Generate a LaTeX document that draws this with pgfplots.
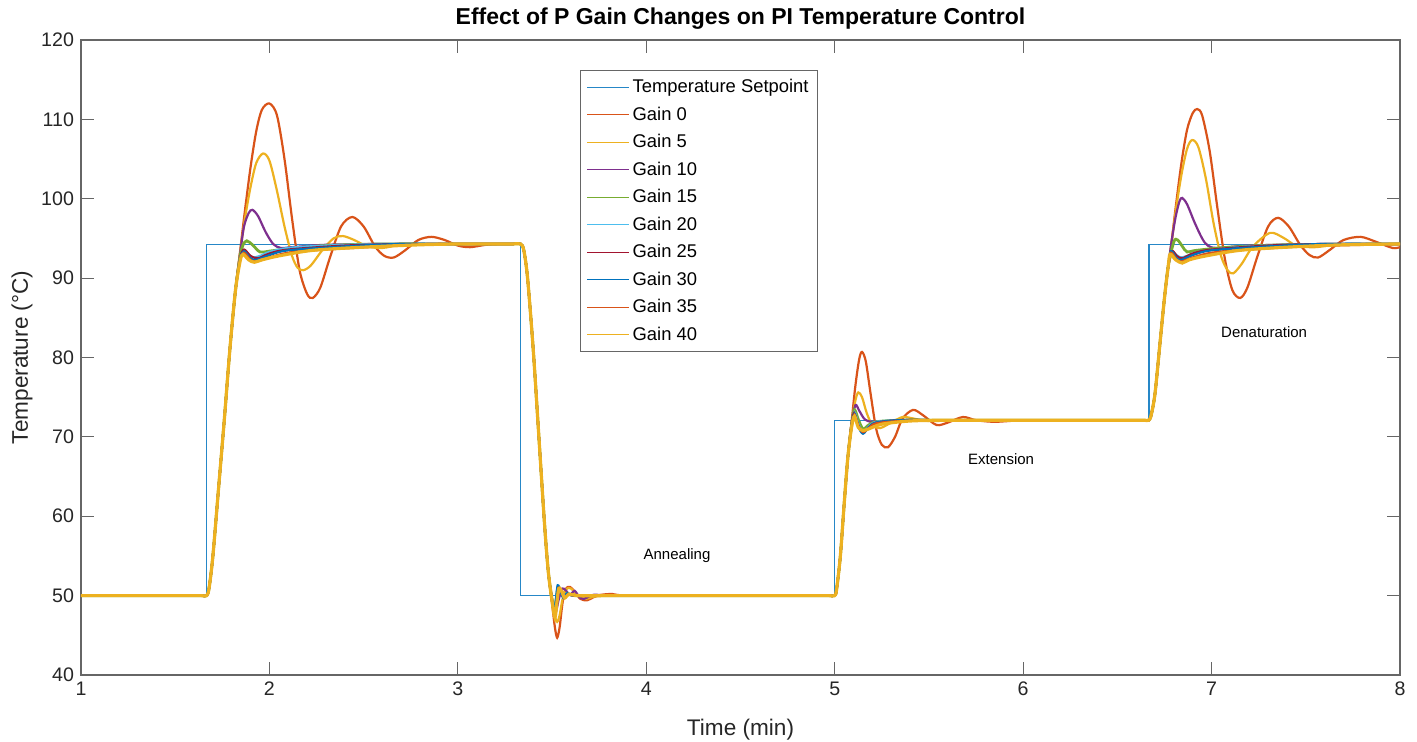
\documentclass[border=0pt]{standalone}
\usepackage{fontspec}
\setmainfont{Liberation Sans}
\usepackage{pgfplots}
\pgfplotsset{compat=1.18}
\usetikzlibrary{calc}
\definecolor{mblue}{RGB}{0,114,189}
\definecolor{morange}{RGB}{217,83,25}
\definecolor{myellow}{RGB}{237,177,32}
\definecolor{mpurple}{RGB}{126,47,142}
\definecolor{mgreen}{RGB}{119,172,48}
\definecolor{mcyan}{RGB}{77,190,238}
\definecolor{mred}{RGB}{162,20,47}
\begin{document}
\begin{tikzpicture}
\begin{axis}[
    name=ax,
    scale only axis,
    width=659.5pt, height=317.5pt,
    xmin=1, xmax=8, ymin=40, ymax=120,
    xtick={1,2,...,8}, ytick={40,50,...,120},
    tick pos=both, tick align=inside,
    major tick length=6.5pt,
    axis line style={black!60, line width=0.6pt},
    every tick/.style={black!60, line width=0.6pt},
    /pgf/number format/assume math mode=true,
    ticklabel style={font=\fontsize{9.8}{11}\selectfont, text=black!85},
    xlabel={Time (min)},
    ylabel={Temperature (°C)},
    xlabel style={at={(axis description cs:0.5,-0.0866)}, anchor=center, font=\fontsize{11.3}{13}\selectfont, text=black!85},
    ylabel style={at={(axis description cs:-0.0447,0.5)}, anchor=center, font=\fontsize{11.3}{13}\selectfont, text=black!85},
    legend style={at={(axis cs:3.649,116.2)}, anchor=north west,
        font=\fontsize{9.2}{11}\selectfont, draw=black!60, line width=0.5pt,
        nodes={inner sep=1.5pt, text depth=0.2em, text height=0.75em},
        row sep=1.26pt},
    legend cell align=left,
    legend image code/.code={\draw[line width=0.5pt] (0pt,0pt) -- (21pt,0pt);},
    every axis plot/.append style={line width=1.1pt, smooth, tension=0.5},
]
% setpoint
\addplot[mblue!85, line width=0.7pt, sharp plot] coordinates {
(1,50) (1.667,50) (1.667,94.2) (3.333,94.2) (3.333,50) (5,50) (5,72.1) (6.667,72.1) (6.667,94.2) (8,94.2)
};
% Gain 0
\addplot[morange] coordinates {
(1,50) (1.4,50) (1.58,50) (1.64,50) (1.667,50) (1.68,51) (1.70,55) (1.73,63.5) (1.76,72) (1.79,81) (1.82,88.5) (1.845,93.5) (1.87,98.5) (1.90,104) (1.93,108.5) (1.96,111.2) (2.0,112) (2.04,110.5) (2.08,105) (2.12,97.5) (2.16,91) (2.20,88) (2.23,87.5) (2.27,88.8) (2.32,92.5) (2.38,96.5) (2.44,97.7) (2.50,96.5) (2.56,94) (2.61,92.8) (2.66,92.6) (2.72,93.5) (2.79,94.8) (2.86,95.2) (2.93,94.8) (3.0,94.1) (3.065,93.9) (3.15,94.2) (3.23,94.3) (3.29,94.3) (3.333,94.3) (3.35,93.5) (3.37,90) (3.40,81) (3.43,70) (3.46,59) (3.48,53) (3.50,49) (3.515,46) (3.527,44.7) (3.54,46) (3.555,49) (3.57,50.8) (3.595,51.1) (3.62,50.5) (3.65,49.6) (3.685,49.4) (3.72,49.8) (3.76,50.1) (3.82,50.2) (3.9,50) (4.3,50) (4.6,50) (4.8,50) (4.93,50) (4.97,50) (5.0,50) (5.01,50.8) (5.03,55) (5.05,61.5) (5.07,67.5) (5.09,72) (5.11,76.5) (5.13,79.8) (5.145,80.7) (5.165,79.5) (5.19,75.5) (5.22,71) (5.25,69) (5.283,68.7) (5.32,70) (5.36,72.3) (5.416,73.4) (5.47,72.7) (5.54,71.5) (5.60,71.8) (5.68,72.5) (5.75,72.1) (5.85,71.9) (6.0,72.1) (6.2,72.1) (6.4,72.1) (6.58,72.1) (6.64,72.1) (6.667,72.1) (6.68,72.8) (6.70,75.5) (6.727,82) (6.75,87.5) (6.77,91.5) (6.785,94) (6.81,99) (6.84,104.5) (6.87,108.7) (6.90,110.8) (6.924,111.3) (6.95,110.5) (6.99,106) (7.03,99) (7.07,92.5) (7.11,88.5) (7.152,87.5) (7.19,88.8) (7.24,92.5) (7.30,96.5) (7.353,97.6) (7.41,96.5) (7.47,94.2) (7.52,92.9) (7.566,92.6) (7.63,93.6) (7.70,94.8) (7.79,95.2) (7.87,94.6) (7.96,93.8) (8.0,93.9)
};
% Gain 5
\addplot[myellow] coordinates {
(1,50) (1.4,50) (1.58,50) (1.64,50) (1.667,50) (1.68,51) (1.70,55) (1.73,63.5) (1.76,72) (1.79,81) (1.82,88.5) (1.845,93.3) (1.87,97.5) (1.90,101.5) (1.93,104.5) (1.966,105.7) (2.0,104.8) (2.04,101) (2.08,96.5) (2.12,92.8) (2.15,91.3) (2.18,91.0) (2.22,91.6) (2.28,93.5) (2.34,95) (2.39,95.3) (2.45,94.8) (2.52,94) (2.60,93.8) (2.70,94.2) (2.85,94.3) (3.0,94.3) (3.2,94.3) (3.29,94.3) (3.333,94.3) (3.35,93.5) (3.37,90) (3.40,81) (3.43,70) (3.46,59) (3.48,53) (3.50,49.2) (3.515,47.4) (3.527,46.7) (3.54,47.5) (3.555,49.5) (3.575,50.8) (3.60,50.9) (3.64,49.9) (3.68,49.6) (3.75,50) (3.9,50) (4.3,50) (4.6,50) (4.8,50) (4.93,50) (4.97,50) (5.0,50) (5.01,50.8) (5.03,55) (5.05,61.5) (5.07,67.5) (5.09,71.8) (5.11,74.6) (5.125,75.6) (5.145,75) (5.17,73) (5.20,71.5) (5.24,71.1) (5.30,71.8) (5.36,72.5) (5.42,72.3) (5.5,72.0) (5.7,72.1) (6.0,72.1) (6.2,72.1) (6.4,72.1) (6.58,72.1) (6.64,72.1) (6.667,72.1) (6.68,72.8) (6.70,75.5) (6.727,82) (6.75,87.5) (6.77,91.5) (6.785,94) (6.81,98.5) (6.84,103) (6.87,106.3) (6.897,107.4) (6.93,106.5) (6.97,102.5) (7.01,97) (7.05,92.8) (7.085,91) (7.115,90.6) (7.16,91.8) (7.22,94) (7.31,95.7) (7.38,95.1) (7.45,94.1) (7.55,93.9) (7.7,94.3) (8.0,94.3)
};
% Gain 10
\addplot[mpurple] coordinates {
(1,50) (1.4,50) (1.58,50) (1.64,50) (1.667,50) (1.68,51) (1.70,55) (1.73,63.5) (1.76,72) (1.79,81) (1.82,88.5) (1.845,93.2) (1.865,96.5) (1.89,98.2) (1.91,98.6) (1.94,97.8) (1.98,95.8) (2.02,94.3) (2.06,93.8) (2.12,93.9) (2.3,94.2) (2.6,94.3) (3.0,94.3) (3.2,94.3) (3.29,94.3) (3.333,94.3) (3.35,93.5) (3.37,90) (3.40,81) (3.43,70) (3.46,59) (3.48,53) (3.50,49.3) (3.518,47.8) (3.535,49.5) (3.555,50.9) (3.575,50.6) (3.595,50.1) (3.62,50.6) (3.645,49.8) (3.67,49.6) (3.72,50.1) (3.8,50) (4.0,50) (4.3,50) (4.6,50) (4.8,50) (4.93,50) (4.97,50) (5.0,50) (5.01,50.8) (5.03,55) (5.05,61.5) (5.07,67.5) (5.09,71.8) (5.11,74) (5.13,73.3) (5.16,72.2) (5.20,71.9) (5.3,72.0) (5.6,72.1) (6.0,72.1) (6.2,72.1) (6.4,72.1) (6.58,72.1) (6.64,72.1) (6.667,72.1) (6.68,72.8) (6.70,75.5) (6.727,82) (6.75,87.5) (6.77,91.5) (6.79,95) (6.81,97.8) (6.83,99.7) (6.844,100.1) (6.87,99.3) (6.91,97) (6.95,95) (6.98,94.1) (7.03,93.8) (7.2,94.1) (7.6,94.3) (8.0,94.3)
};
% Gain 15
\addplot[mgreen, line width=1.4pt] coordinates {
(1,50) (1.4,50) (1.58,50) (1.64,50) (1.667,50) (1.68,51) (1.70,55) (1.73,63.5) (1.76,72) (1.79,81) (1.82,88.5) (1.845,92.8) (1.86,94.2) (1.88,94.7) (1.91,94.2) (1.95,93.3) (2.0,93.4) (2.1,93.7) (2.3,94.1) (2.6,94.3) (3.0,94.3) (3.2,94.3) (3.29,94.3) (3.333,94.3) (3.35,93.5) (3.37,90) (3.40,81) (3.43,70) (3.46,59) (3.48,53) (3.50,49.5) (3.512,48.2) (3.522,49.6) (3.532,51.1) (3.547,50.5) (3.562,49.8) (3.58,50.3) (3.62,50) (3.8,50) (4.0,50) (4.3,50) (4.6,50) (4.8,50) (4.93,50) (4.97,50) (5.0,50) (5.01,50.8) (5.03,55) (5.05,61.5) (5.07,67.5) (5.09,71.5) (5.105,73.4) (5.125,72.2) (5.15,71.0) (5.18,71.5) (5.22,71.9) (5.35,72.1) (5.6,72.1) (6.0,72.1) (6.2,72.1) (6.4,72.1) (6.58,72.1) (6.64,72.1) (6.667,72.1) (6.68,72.8) (6.70,75.5) (6.727,82) (6.75,87.5) (6.77,91.5) (6.80,94.6) (6.82,94.8) (6.845,94) (6.87,93.3) (6.92,93.5) (7.1,93.9) (7.4,94.2) (8.0,94.3)
};
% Gain 20
\addplot[mcyan] coordinates {
(1,50) (1.4,50) (1.58,50) (1.64,50) (1.667,50) (1.68,51) (1.70,55) (1.73,63.5) (1.76,72) (1.79,81) (1.82,88.5) (1.845,92.5) (1.865,93.4) (1.885,93.1) (1.91,92.6) (1.95,92.8) (2.0,93.3) (2.1,93.8) (2.3,94.1) (2.6,94.3) (3.0,94.3) (3.2,94.3) (3.29,94.3) (3.333,94.3) (3.35,93.5) (3.37,90) (3.40,81) (3.43,70) (3.46,59) (3.48,53) (3.50,49.4) (3.512,48) (3.522,49.5) (3.53,51.2) (3.545,50.6) (3.56,49.8) (3.58,50.3) (3.62,50) (3.8,50) (4.0,50) (4.3,50) (4.6,50) (4.8,50) (4.93,50) (4.97,50) (5.0,50) (5.01,50.8) (5.03,55) (5.05,61.5) (5.07,67.5) (5.09,71.5) (5.105,73.1) (5.125,71.7) (5.15,70.6) (5.18,71.3) (5.22,71.9) (5.35,72.1) (5.6,72.1) (6.0,72.1) (6.2,72.1) (6.4,72.1) (6.58,72.1) (6.64,72.1) (6.667,72.1) (6.68,72.8) (6.70,75.5) (6.727,82) (6.75,87.5) (6.77,91.5) (6.79,93.2) (6.81,93) (6.835,92.6) (6.87,92.8) (6.95,93.4) (7.2,94) (7.6,94.3) (8.0,94.3)
};
% Gain 25
\addplot[mred] coordinates {
(1,50) (1.4,50) (1.58,50) (1.64,50) (1.667,50) (1.68,51) (1.70,55) (1.73,63.5) (1.76,72) (1.79,81) (1.82,88.5) (1.845,92.5) (1.865,93.6) (1.90,92.8) (1.94,92.5) (2.0,93.1) (2.1,93.6) (2.4,94.1) (2.7,94.3) (3.0,94.3) (3.2,94.3) (3.29,94.3) (3.333,94.3) (3.35,93.5) (3.37,90) (3.40,81) (3.43,70) (3.46,59) (3.48,53) (3.50,49.5) (3.513,47.9) (3.523,49.4) (3.532,51.0) (3.547,50.5) (3.563,49.8) (3.58,50.2) (3.62,50) (3.8,50) (4.0,50) (4.3,50) (4.6,50) (4.8,50) (4.93,50) (4.97,50) (5.0,50) (5.01,50.8) (5.03,55) (5.05,61.5) (5.07,67.5) (5.09,71.5) (5.103,73.0) (5.125,71.5) (5.15,70.5) (5.18,71.2) (5.22,71.8) (5.35,72.1) (5.6,72.1) (6.0,72.1) (6.2,72.1) (6.4,72.1) (6.58,72.1) (6.64,72.1) (6.667,72.1) (6.68,72.8) (6.70,75.5) (6.727,82) (6.75,87.5) (6.77,91.5) (6.79,93.4) (6.815,92.8) (6.845,92.5) (6.9,93.1) (7.0,93.6) (7.3,94.1) (7.6,94.3) (8.0,94.3)
};
% Gain 30
\addplot[mblue] coordinates {
(1,50) (1.4,50) (1.58,50) (1.64,50) (1.667,50) (1.68,51) (1.70,55) (1.73,63.5) (1.76,72) (1.79,81) (1.82,88.5) (1.845,92.4) (1.865,93.4) (1.90,92.5) (1.93,92.3) (2.0,92.9) (2.1,93.5) (2.4,94.0) (2.7,94.3) (3.0,94.3) (3.2,94.3) (3.29,94.3) (3.333,94.3) (3.35,93.5) (3.37,90) (3.40,81) (3.43,70) (3.46,59) (3.48,53) (3.50,49.4) (3.511,47.8) (3.521,49.6) (3.53,51.3) (3.545,50.6) (3.56,49.7) (3.58,50.3) (3.62,50) (3.8,50) (4.0,50) (4.3,50) (4.6,50) (4.8,50) (4.93,50) (4.97,50) (5.0,50) (5.01,50.8) (5.03,55) (5.05,61.5) (5.07,67.5) (5.09,71.5) (5.105,72.9) (5.125,71.3) (5.15,70.4) (5.18,71.2) (5.22,71.8) (5.35,72.1) (5.6,72.1) (6.0,72.1) (6.2,72.1) (6.4,72.1) (6.58,72.1) (6.64,72.1) (6.667,72.1) (6.68,72.8) (6.70,75.5) (6.727,82) (6.75,87.5) (6.77,91.5) (6.785,93.4) (6.815,92.5) (6.84,92.3) (6.9,92.9) (7.0,93.5) (7.3,94.0) (7.6,94.3) (8.0,94.3)
};
% Gain 35
\addplot[morange] coordinates {
(1,50) (1.4,50) (1.58,50) (1.64,50) (1.667,50) (1.68,51) (1.70,55) (1.73,63.5) (1.76,72) (1.79,81) (1.82,88.5) (1.845,92.3) (1.865,93.2) (1.90,92.3) (1.93,92.1) (2.0,92.6) (2.1,93.2) (2.3,93.6) (2.6,94.0) (2.85,94.3) (3.0,94.3) (3.2,94.3) (3.29,94.3) (3.333,94.3) (3.35,93.5) (3.37,90) (3.40,81) (3.43,70) (3.46,59) (3.48,53) (3.50,49.3) (3.514,47.5) (3.525,49.3) (3.535,51.0) (3.55,50.5) (3.565,49.7) (3.585,50.2) (3.63,50) (3.8,50) (4.0,50) (4.3,50) (4.6,50) (4.8,50) (4.93,50) (4.97,50) (5.0,50) (5.01,50.8) (5.03,55) (5.05,61.5) (5.07,67.5) (5.09,71.4) (5.105,72.8) (5.125,71.4) (5.15,70.6) (5.18,71.1) (5.22,71.7) (5.35,72.0) (5.6,72.1) (6.0,72.1) (6.2,72.1) (6.4,72.1) (6.58,72.1) (6.64,72.1) (6.667,72.1) (6.68,72.8) (6.70,75.5) (6.727,82) (6.75,87.5) (6.77,91.5) (6.785,93.2) (6.815,92.3) (6.84,92.1) (6.9,92.6) (7.0,93.2) (7.2,93.6) (7.5,94.0) (8.0,94.3)
};
% Gain 40
\addplot[myellow, line width=1.6pt] coordinates {
(1,50) (1.4,50) (1.58,50) (1.64,50) (1.667,50) (1.68,51) (1.70,55) (1.73,63.5) (1.76,72) (1.79,81) (1.82,88.5) (1.845,92.2) (1.86,93) (1.89,92.3) (1.92,92.0) (1.96,92.3) (2.05,92.8) (2.23,93.5) (2.5,93.9) (2.8,94.2) (3.0,94.3) (3.2,94.3) (3.29,94.3) (3.333,94.3) (3.35,93.5) (3.37,90) (3.40,81) (3.43,70) (3.46,59) (3.48,53) (3.50,49.3) (3.515,47.2) (3.526,49.2) (3.536,50.9) (3.552,50.5) (3.567,49.7) (3.59,50.2) (3.64,50) (3.8,50) (4.0,50) (4.3,50) (4.6,50) (4.8,50) (4.93,50) (4.97,50) (5.0,50) (5.01,50.8) (5.03,55) (5.05,61.5) (5.07,67.5) (5.09,71.3) (5.105,72.6) (5.125,71.2) (5.15,70.8) (5.18,71.0) (5.25,71.6) (5.4,72.0) (5.6,72.1) (6.0,72.1) (6.2,72.1) (6.4,72.1) (6.58,72.1) (6.64,72.1) (6.667,72.1) (6.68,72.8) (6.70,75.5) (6.727,82) (6.75,87.5) (6.77,91.5) (6.78,93) (6.81,92.3) (6.844,91.9) (6.88,92.3) (6.97,92.8) (7.15,93.5) (7.4,93.9) (7.7,94.2) (8.0,94.3)
};
\legend{Temperature Setpoint, Gain 0, Gain 5, Gain 10, Gain 15, Gain 20, Gain 25, Gain 30, Gain 35, Gain 40}
\node[font=\fontsize{7.5}{9}\selectfont] at (axis cs:4.163,55.1) {Annealing};
\node[font=\fontsize{7.5}{9}\selectfont] at (axis cs:5.883,67.2) {Extension};
\node[font=\fontsize{7.5}{9}\selectfont] at (axis cs:7.279,83.2) {Denaturation};
\end{axis}
\node[font=\bfseries\fontsize{11.5}{13}\selectfont] at ($(ax.north)+(0,10.5pt)$) {Effect of P Gain Changes on PI Temperature Control};
\pgfresetboundingbox
\path[use as bounding box] ($(ax.south west)+(-40.5pt,-33.5pt)$) rectangle ($(ax.north east)+(8.5pt,20pt)$);
\end{tikzpicture}
\end{document}
